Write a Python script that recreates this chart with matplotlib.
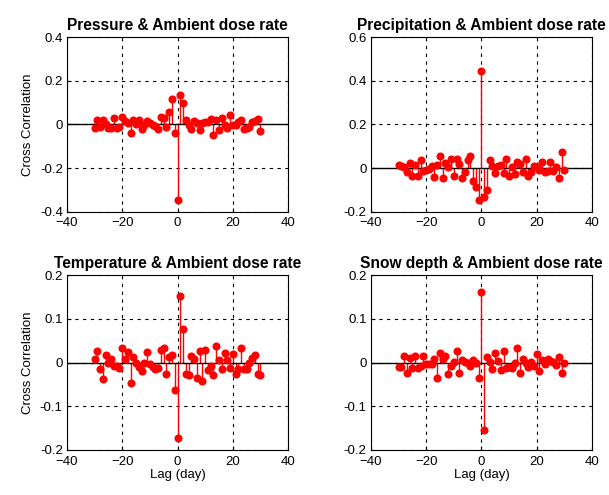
import numpy as np
import matplotlib
matplotlib.use("Agg")
import matplotlib.pyplot as plt

plt.rcParams['font.family'] = ['Liberation Sans', 'DejaVu Sans']

lags = np.arange(-30, 31)

# cross correlation values, lag -30 .. 30
pressure = [-0.016, 0.02, -0.012, 0.02, 0.0, -0.016, -0.016, 0.028, -0.016, -0.012,
            0.033, 0.018, 0.006, -0.04, 0.02, 0.003, 0.02, -0.02, -0.002, 0.018,
            0.006, -0.002, -0.006, -0.02, 0.033, 0.028, -0.012, 0.055, 0.115, -0.04,
            -0.344,
            0.137, 0.1, 0.02, -0.002, -0.02, 0.018, 0.006, -0.025, 0.006, 0.013,
            0.013, 0.024, -0.047, 0.02, -0.025, 0.028, -0.002, -0.016, 0.043, -0.002,
            -0.002, 0.013, 0.02, -0.02, -0.016, -0.012, 0.013, 0.018, 0.024, -0.032]

precip = [0.015, 0.008, 0.005, -0.018, 0.023, -0.034, 0.015, -0.034, 0.038, -0.015,
          -0.008, -0.003, 0.009, -0.042, 0.015, 0.058, -0.045, 0.023, 0.005, 0.043,
          -0.034, 0.043, 0.02, -0.045, -0.018, 0.038, 0.054, -0.06, -0.088, -0.146,
          0.443,
          -0.134, -0.1, 0.038, 0.008, -0.023, 0.012, 0.015, -0.023, 0.043, -0.034,
          0.005, -0.026, 0.028, 0.02, -0.018, 0.043, -0.034, -0.018, 0.012, 0.005,
          -0.008, 0.028, -0.018, -0.011, 0.028, -0.011, 0.005, -0.045, 0.074, -0.008]

temperature = [0.008, 0.027, -0.015, -0.038, 0.018, 0.0, 0.008, -0.008, -0.008, -0.012,
               0.033, 0.008, 0.025, -0.046, 0.013, 0.0, -0.01, -0.019, 0.0, 0.025,
               -0.004, -0.01, -0.015, -0.013, 0.028, 0.033, -0.027, 0.012, 0.018, -0.062,
               -0.173,
               0.152, 0.077, -0.025, -0.028, 0.015, 0.008, -0.035, 0.027, -0.042, 0.028,
               -0.018, -0.008, -0.028, 0.038, 0.005, -0.015, 0.023, 0.005, -0.012, 0.019,
               -0.025, -0.015, 0.033, -0.015, -0.015, 0.0, 0.01, 0.018, -0.025, -0.028]

snow = [-0.01, -0.01, 0.015, -0.023, 0.01, -0.012, 0.015, -0.012, -0.008, 0.015,
        -0.004, -0.004, -0.004, 0.008, -0.036, 0.023, 0.008, 0.015, -0.025, -0.008,
        0.002, 0.027, -0.023, 0.005, 0.002, 0.0, -0.008, 0.005, -0.002, -0.036,
        0.162,
        -0.154, 0.013, 0.002, -0.015, 0.023, 0.004, -0.018, 0.027, -0.013, -0.01,
        -0.012, -0.002, 0.033, -0.023, 0.008, 0.0, -0.01, 0.002, -0.008, 0.019,
        -0.019, 0.005, -0.004, 0.008, 0.004, 0.002, -0.005, 0.012, -0.023, 0.0]

titles = ['Pressure & Ambient dose rate', 'Precipitation & Ambient dose rate',
          'Temperature & Ambient dose rate', 'Snow depth & Ambient dose rate']
series = [pressure, precip, temperature, snow]
ylims = [(-0.4, 0.4), (-0.2, 0.6), (-0.2, 0.2), (-0.2, 0.2)]
yticks = [[-0.4, -0.2, 0, 0.2, 0.4], [-0.2, 0, 0.2, 0.4, 0.6],
          [-0.2, -0.1, 0, 0.1, 0.2], [-0.2, -0.1, 0, 0.1, 0.2]]
ytick_labels = [['-0.4', '-0.2', '0', '0.2', '0.4'], ['-0.2', '0', '0.2', '0.4', '0.6'],
                ['-0.2', '-0.1', '0', '0.1', '0.2'], ['-0.2', '-0.1', '0', '0.1', '0.2']]

fig = plt.figure(figsize=(6.09, 4.95), dpi=100)
positions = [[0.110, 0.572, 0.363, 0.353], [0.609, 0.572, 0.363, 0.353],
             [0.110, 0.091, 0.363, 0.353], [0.609, 0.091, 0.363, 0.353]]

for i in range(4):
    ax = fig.add_axes(positions[i])
    vals = np.array(series[i])
    ax.vlines(lags, 0, vals, color='red', lw=1, zorder=2)
    ax.plot(lags, vals, 'o', color='red', ms=4.8, zorder=3)
    ax.axhline(0, color='black', lw=1, zorder=2.5)
    ax.set_xlim(-40, 40)
    ax.set_ylim(*ylims[i])
    ax.set_xticks([-40, -20, 0, 20, 40])
    ax.set_yticks(yticks[i])
    ax.set_yticklabels(ytick_labels[i])
    ax.grid(True, color='black', linestyle=(0, (3, 4)), lw=0.8)
    ax.tick_params(direction='in', labelsize=9.5, length=3)
    ax.tick_params(axis='x', pad=4)
    ax.tick_params(axis='y', pad=3)
    for s in ax.spines.values():
        s.set_color('black')
        s.set_linewidth(0.8)
    ax.set_title(titles[i], fontsize=11.2, fontweight='bold', pad=5)
    if i % 2 == 0:
        ax.set_ylabel('Cross Correlation', fontsize=9.5)
    if i >= 2:
        ax.set_xlabel('Lag (day)', fontsize=9.5, labelpad=1)

fig.savefig('out.png', dpi=100)
